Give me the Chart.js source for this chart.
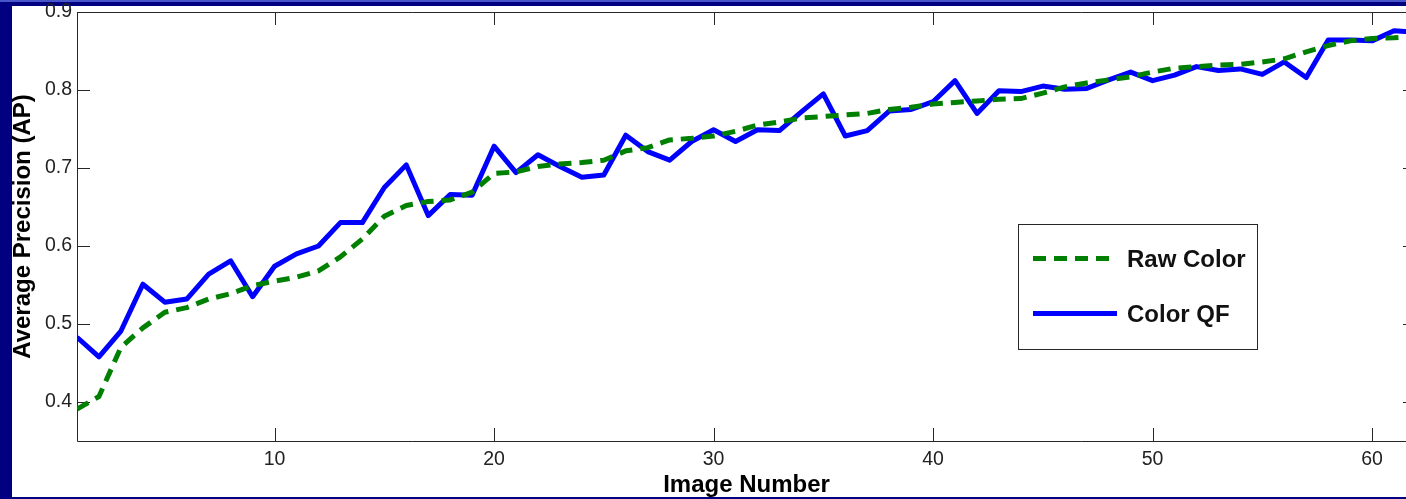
<!DOCTYPE html>
<html>
<head>
<meta charset="utf-8">
<title>Average Precision per Image</title>
<script src="https://cdn.jsdelivr.net/npm/chart.js@4.4.1/dist/chart.umd.min.js"></script>
<style>
  html, body { margin: 0; padding: 0; }
  body { width: 1406px; height: 499px; overflow: hidden; background: #000080; position: relative; }
  #topline { position: absolute; left: 0; top: 0; width: 1406px; height: 2px; background: #4656c8; }
  #panel { position: absolute; left: 12px; top: 6px; width: 1394px; height: 491px; background: #ffffff; }
  #chart { position: absolute; left: 0; top: 0; }
</style>
</head>
<body>
<div id="topline"></div>
<div id="panel"></div>
<canvas id="chart" width="1430" height="499" style="width:1430px;height:499px"></canvas>
<script>
// Image numbers along the x axis
const imageNumbers = [
  1, 2, 3, 4, 5, 6, 7, 8, 9, 10,
  11, 12, 13, 14, 15, 16, 17, 18, 19, 20,
  21, 22, 23, 24, 25, 26, 27, 28, 29, 30,
  31, 32, 33, 34, 35, 36, 37, 38, 39, 40,
  41, 42, 43, 44, 45, 46, 47, 48, 49, 50,
  51, 52, 53, 54, 55, 56, 57, 58, 59, 60,
  61, 62
];

// Average precision using raw colour features
const rawColorAP = [
  0.391, 0.407, 0.470, 0.495, 0.515, 0.521, 0.532, 0.539, 0.549, 0.555,
  0.560, 0.568, 0.586, 0.609, 0.638, 0.652, 0.657, 0.659, 0.669, 0.693,
  0.695, 0.702, 0.705, 0.707, 0.710, 0.722, 0.726, 0.736, 0.738, 0.741,
  0.747, 0.755, 0.759, 0.764, 0.766, 0.768, 0.770, 0.775, 0.778, 0.782,
  0.784, 0.786, 0.788, 0.789, 0.796, 0.804, 0.809, 0.813, 0.817, 0.823,
  0.828, 0.830, 0.832, 0.833, 0.836, 0.840, 0.849, 0.857, 0.863, 0.866,
  0.867, 0.869
];

// Average precision using the colour QF features
const colorQFAP = [
  0.483, 0.458, 0.491, 0.551, 0.528, 0.532, 0.564, 0.581, 0.535, 0.574,
  0.590, 0.600, 0.630, 0.630, 0.675, 0.704, 0.639, 0.666, 0.665, 0.728,
  0.694, 0.717, 0.702, 0.688, 0.691, 0.742, 0.721, 0.710, 0.734, 0.749,
  0.734, 0.749, 0.748, 0.772, 0.795, 0.741, 0.748, 0.773, 0.775, 0.785,
  0.812, 0.770, 0.799, 0.798, 0.805, 0.801, 0.802, 0.813, 0.823, 0.812,
  0.819, 0.830, 0.825, 0.827, 0.820, 0.836, 0.816, 0.864, 0.864, 0.863,
  0.876, 0.874
];

// Tick values shown on the axes
const xTickValues = [10, 20, 30, 40, 50, 60];
const yTickValues = [0.4, 0.5, 0.6, 0.7, 0.8, 0.9];

const FONT = '"Liberation Sans", Arial, Helvetica, sans-serif';
Chart.defaults.font.family = FONT;

const toPoints = (ys) => imageNumbers.map((x, i) => ({ x: x, y: ys[i] }));

// Axes box with inward tick marks on all four sides
const axisFrame = {
  id: 'axisFrame',
  beforeDatasetsDraw(chart) {
    const { ctx, chartArea: a, scales } = chart;
    const len = 13;
    ctx.save();
    ctx.strokeStyle = '#262626';
    ctx.lineWidth = 1;
    ctx.beginPath();
    ctx.rect(Math.round(a.left) + 0.5, Math.round(a.top) + 0.5,
             Math.round(a.right - a.left), Math.round(a.bottom - a.top));
    scales.x.ticks.forEach(t => {
      const px = Math.round(scales.x.getPixelForValue(t.value)) + 0.5;
      ctx.moveTo(px, a.bottom); ctx.lineTo(px, a.bottom - len);
      ctx.moveTo(px, a.top); ctx.lineTo(px, a.top + len);
    });
    scales.y.ticks.forEach(t => {
      const py = Math.round(scales.y.getPixelForValue(t.value)) + 0.5;
      ctx.moveTo(a.left, py); ctx.lineTo(a.left + len, py);
      ctx.moveTo(a.right, py); ctx.lineTo(a.right - len, py);
    });
    ctx.stroke();
    ctx.restore();
  }
};

// Boxed legend inside the plot, lower right
const boxedLegend = {
  id: 'boxedLegend',
  afterDatasetsDraw(chart) {
    const { ctx, chartArea: a } = chart;
    const bx = a.left + 941, by = a.top + 212, bw = 239, bh = 125;
    ctx.save();
    ctx.fillStyle = '#ffffff';
    ctx.fillRect(bx, by, bw, bh);
    ctx.strokeStyle = '#262626';
    ctx.lineWidth = 1;
    ctx.strokeRect(Math.round(bx) + 0.5, Math.round(by) + 0.5, bw, bh);
    const rows = [{ ds: chart.data.datasets[0], y: by + 34.5, base: by + 43 },
                  { ds: chart.data.datasets[1], y: by + 89.5, base: by + 98 }];
    rows.forEach(r => {
      ctx.beginPath();
      ctx.strokeStyle = r.ds.borderColor;
      ctx.lineWidth = r.ds.borderWidth;
      ctx.lineCap = 'butt';
      ctx.setLineDash(r.ds.borderDash || []);
      ctx.moveTo(bx + 15, r.y);
      ctx.lineTo(bx + 99, r.y);
      ctx.stroke();
      ctx.setLineDash([]);
      ctx.fillStyle = '#111111';
      ctx.font = 'bold 24px ' + FONT;
      ctx.textAlign = 'left';
      ctx.textBaseline = 'alphabetic';
      ctx.fillText(r.ds.label, bx + 109, r.base);
    });
    ctx.restore();
  }
};

new Chart(document.getElementById('chart'), {
  type: 'line',
  data: {
    datasets: [
      {
        label: 'Raw Color',
        data: toPoints(rawColorAP),
        borderColor: '#008000',
        borderWidth: 5,
        borderDash: [13, 8],
        borderCapStyle: 'butt',
        borderJoinStyle: 'round',
        pointRadius: 0,
        tension: 0,
        fill: false
      },
      {
        label: 'Color QF',
        data: toPoints(colorQFAP),
        borderColor: '#0000ff',
        borderWidth: 5,
        borderJoinStyle: 'round',
        pointRadius: 0,
        tension: 0,
        fill: false
      }
    ]
  },
  options: {
    responsive: false,
    animation: false,
    devicePixelRatio: 1,
    layout: { padding: { left: 11, top: 12, right: 14, bottom: 0 } },
    plugins: {
      legend: { display: false },
      tooltip: { enabled: false }
    },
    scales: {
      x: {
        type: 'linear',
        min: 1,
        max: 62,
        grid: { display: false, drawTicks: false },
        border: { display: false },
        afterBuildTicks: (scale) => { scale.ticks = xTickValues.map(v => ({ value: v })); },
        afterFit: (scale) => {
          scale.height = 58;
          scale.paddingLeft = 0;
          scale.paddingRight = 0;
        },
        ticks: {
          color: '#222222',
          font: { size: 19.5 },
          padding: 7,
          maxRotation: 0,
          callback: (v) => String(v)
        },
        title: {
          display: true,
          text: 'Image Number',
          color: '#000000',
          font: { size: 24, weight: 'bold', lineHeight: 1 },
          padding: { top: 0, bottom: 1.4 }
        }
      },
      y: {
        type: 'linear',
        min: 0.35,
        max: 0.9,
        grid: { display: false, drawTicks: false },
        border: { display: false },
        afterBuildTicks: (scale) => { scale.ticks = yTickValues.map(v => ({ value: v })); },
        afterFit: (scale) => {
          scale.width = 66;
          scale.paddingTop = 0;
          scale.paddingBottom = 0;
        },
        ticks: {
          color: '#222222',
          font: { size: 19.5 },
          padding: 5,
          callback: (v) => Number(v).toFixed(1)
        },
        title: {
          display: true,
          text: 'Average Precision (AP)',
          color: '#000000',
          font: { size: 24, weight: 'bold', lineHeight: 1 },
          padding: { top: 0, bottom: 0 }
        }
      }
    }
  },
  plugins: [axisFrame, boxedLegend]
});
</script>
</body>
</html>
